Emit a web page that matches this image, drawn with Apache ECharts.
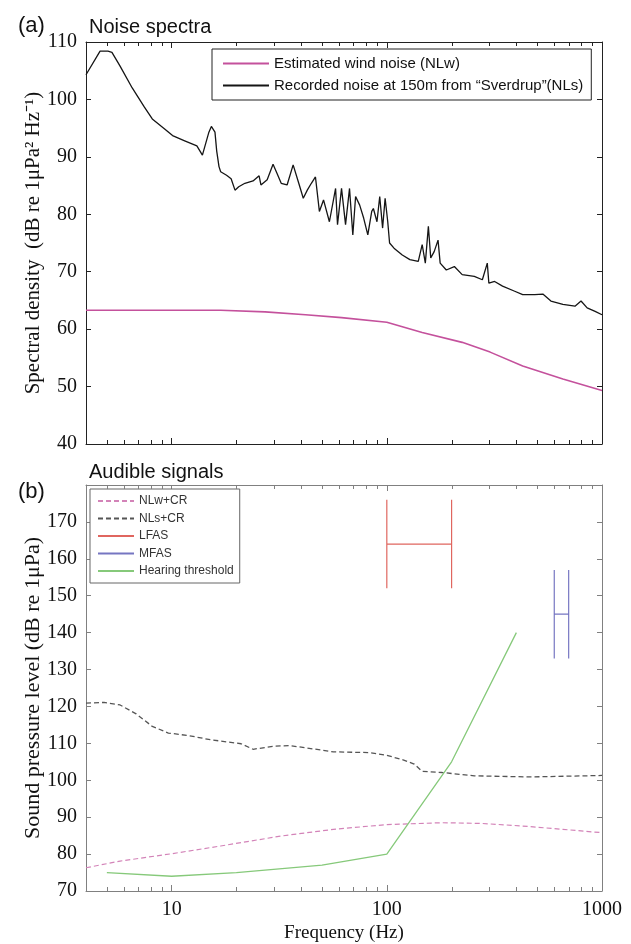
<!DOCTYPE html>
<html>
<head>
<meta charset="utf-8">
<script src="https://cdn.jsdelivr.net/npm/echarts@6/dist/echarts.min.js"></script>
<style>
  html, body { margin: 0; background: #fff; }
  #chart { width: 631px; height: 944px; }
</style>
</head>
<body>
<div id="chart"></div>
<script>
// (a) recorded noise near "Sverdrup" (NLs)
const nlsFreq = [4, 4.65, 5.06, 5.28, 5.76, 6.56, 7.46, 8.13, 9.25, 10.1, 11.5, 13.1, 13.9, 14.9, 15.3, 15.9,
  16.2, 16.6, 16.9, 18.0, 18.9, 19.7, 20.5, 21.9, 23.9, 25.5, 26.0, 27.8, 29.6, 30.9, 32.3, 34.4, 36.7,
  39.2, 40.9, 42.7, 44.6, 46.6, 48.6, 50.8, 54.1, 57.8, 59.0, 61.6, 64.3, 67.1, 69.5, 71.6, 74.8, 78.1,
  81.6, 85.1, 86.6, 90.0, 92.7, 95.6, 98.2, 101, 103, 108, 118, 128, 140, 146, 151, 156, 160, 166, 173,
  177, 189, 206, 224, 255, 278, 293, 298, 317, 345, 393, 428, 487, 531, 579, 658, 749, 799, 853, 929, 1000];
const nlsLevel = [104.3, 108.4, 108.4, 108.2, 105.8, 102.0, 98.7, 96.6, 94.9, 93.7, 92.8, 91.9, 90.3, 94.3, 95.3, 94.3,
  91.0, 88.3, 87.4, 86.8, 86.2, 84.2, 84.8, 85.4, 85.8, 86.7, 85.1, 86.0, 88.7, 87.1, 85.4, 85.1, 88.6,
  85.1, 82.8, 84.2, 85.4, 86.5, 80.5, 82.5, 78.7, 84.5, 78.2, 84.5, 78.2, 84.5, 76.4, 83.1, 81.6, 79.3,
  76.4, 80.5, 81.0, 78.7, 83.1, 77.6, 82.8, 78.7, 75.0, 74.1, 72.9, 72.1, 71.8, 74.7, 71.5, 77.9, 72.4, 73.5, 75.5,
  71.5, 70.3, 70.9, 69.5, 69.2, 68.6, 71.5, 68.0, 68.3, 67.5, 66.6, 66.0, 66.0, 66.1, 64.9, 64.3, 64.0, 64.9, 63.7, 63.1, 62.5];

// (a) estimated wind noise (NLw)
const nlwFreq = [4, 16.9, 27.2, 41.9, 61.6, 100, 146, 224, 302, 428, 658, 1000];
const nlwLevel = [63.3, 63.3, 63.0, 62.5, 62.0, 61.2, 59.4, 57.7, 56.0, 53.6, 51.3, 49.3];

// (b) audible signals
const nlwCrFreq = [4, 5.76, 10, 16.9, 32.3, 56.5, 100, 181, 278, 428, 658, 1000];
const nlwCrLevel = [76.3, 78.1, 80.1, 82.2, 84.9, 86.7, 88.0, 88.5, 88.3, 87.6, 86.7, 85.8];

const nlsCrFreq = [4, 4.85, 5.76, 6.84, 8.13, 9.66, 12.0, 15.1, 21.0, 23.9, 29.6, 35.2, 41.9, 56.5, 83.3,
  99.3, 118, 134, 146, 181, 255, 467, 1000];
const nlsCrLevel = [120.9, 121.1, 120.4, 118.0, 114.6, 112.8, 112.1, 111.0, 109.9, 108.4, 109.2, 109.4, 108.8, 107.7, 107.5,
  106.8, 105.6, 104.4, 102.4, 102.1, 101.2, 100.9, 101.3];

const thresholdFreq = [5, 10, 20, 50, 100, 200, 400];
const thresholdLevel = [75, 74, 75, 77, 80, 105, 140];

const lfasFreq = [100, 200];
const lfasLevel = 164;
const lfasRange = [152, 176];

const mfasFreq = [600, 700];
const mfasLevel = 145;
const mfasRange = [133, 157];

// axis ticks
const freqLabels = [10, 100, 1000];
const minorFreqs = [5, 6, 7, 8, 9, 20, 30, 40, 50, 60, 70, 80, 90, 200, 300, 400, 500, 600, 700, 800, 900];

const serif = 'Liberation Serif';
const sans = 'Liberation Sans';
const darkAxis = '#222';
const grayAxis = '#808080';

const zip = (xs, ys) => xs.map((x, i) => [x, ys[i]]);

// H shaped marker: two vertical bars and a horizontal bar, broken with '-'
const hShape = (freqs, level, range) => [
  [freqs[0], range[0]], [freqs[0], range[1]], [freqs[0], '-'],
  [freqs[0], level], [freqs[1], level], [freqs[1], '-'],
  [freqs[1], range[0]], [freqs[1], range[1]]
];

const freqAxis = (grid, pos, color, showLabels) => ({
  type: 'log', logBase: 10, gridIndex: grid, position: pos, min: 4, max: 1000,
  axisLine: { show: true, onZero: false, lineStyle: { color: color, width: 1 } },
  axisTick: { show: true, inside: true, length: 6, lineStyle: { color: color } },
  axisLabel: {
    show: showLabels, margin: 9, fontFamily: serif, fontSize: 20, color: '#111',
    showMaxLabel: true,
    formatter: v => freqLabels.includes(Math.round(v)) ? String(Math.round(v)) : ''
  },
  splitLine: { show: false }
});

const levelAxis = (grid, pos, min, max, color, showLabels, name, nameSize, nameGap) => ({
  type: 'value', gridIndex: grid, position: pos, min: min, max: max, interval: 10,
  name: name || '', nameLocation: 'middle', nameGap: nameGap || 34, nameMoveOverlap: false,
  nameTextStyle: { fontFamily: serif, fontSize: nameSize || 19, color: '#111' },
  axisLine: { show: true, onZero: false, lineStyle: { color: color, width: 1 } },
  axisTick: { show: true, inside: true, length: 5, lineStyle: { color: color } },
  axisLabel: {
    show: showLabels, margin: 9, fontFamily: serif, fontSize: 20, color: '#111',
    formatter: v => (v === max && max === 180) ? '' : String(v)
  },
  splitLine: { show: false }
});

const minorTicks = (xi, yi, yMin, yMax, color) => ({
  type: 'custom', xAxisIndex: xi, yAxisIndex: yi, silent: true, clip: false, z: 5,
  data: minorFreqs.map(f => [f, yMin]),
  encode: { x: 0, y: 1 },
  renderItem: (params, api) => {
    const b = api.coord([api.value(0), yMin]);
    const t = api.coord([api.value(0), yMax]);
    const x = Math.round(b[0]) + 0.5;
    return {
      type: 'group',
      children: [
        { type: 'line', shape: { x1: x, y1: b[1], x2: x, y2: b[1] - 4 }, style: { stroke: color, lineWidth: 1 } },
        { type: 'line', shape: { x1: x, y1: t[1], x2: x, y2: t[1] + 4 }, style: { stroke: color, lineWidth: 1 } }
      ]
    };
  }
});

const line = (name, xi, yi, data, color, width, type) => ({
  name: name, type: 'line', xAxisIndex: xi, yAxisIndex: yi, data: data,
  symbol: 'none', connectNulls: false,
  lineStyle: { color: color, width: width, type: type || 'solid' },
  itemStyle: { color: color }
});

const nameNLw = 'Estimated wind noise (NLw)';
const nameNLs = 'Recorded noise at 150m from \u201cSverdrup\u201d(NLs)';

const chart = echarts.init(document.getElementById('chart'));
chart.setOption({
  animation: false,
  backgroundColor: '#fff',
  title: [
    { text: '(a)', left: 13, top: 10, textStyle: { fontFamily: sans, fontSize: 22, fontWeight: 'normal', color: '#111' } },
    { text: 'Noise spectra', left: 84, top: 12, textStyle: { fontFamily: sans, fontSize: 20, fontWeight: 'normal', color: '#111' } },
    { text: 'Audible signals', left: 84, top: 457, textStyle: { fontFamily: sans, fontSize: 20, fontWeight: 'normal', color: '#111' } },
    { text: '(b)', left: 13, top: 476, textStyle: { fontFamily: sans, fontSize: 22, fontWeight: 'normal', color: '#111' } }
  ],
  legend: [
    {
      data: [nameNLw, nameNLs], left: 212, top: 49, orient: 'vertical',
      itemWidth: 46, itemHeight: 14, itemGap: 7, padding: [7, 8, 7, 10],
      borderColor: '#222', borderWidth: 1, backgroundColor: '#fff', selectedMode: false,
      itemStyle: { opacity: 0 },
      textStyle: { fontFamily: sans, fontSize: 15, color: '#111' }
    },
    {
      data: ['NLw+CR', 'NLs+CR', 'LFAS', 'MFAS', 'Hearing threshold'], left: 90, top: 489, orient: 'vertical',
      itemWidth: 36, itemHeight: 10, itemGap: 5.5, padding: [6, 6, 6, 7],
      borderColor: '#666', borderWidth: 1, backgroundColor: '#fff', selectedMode: false,
      itemStyle: { opacity: 0 },
      textStyle: { fontFamily: sans, fontSize: 12, color: '#333' }
    }
  ],
  grid: [
    { left: 86, top: 42, width: 516, height: 402 },
    { left: 86, top: 485, width: 516, height: 406 }
  ],
  xAxis: [
    freqAxis(0, 'bottom', darkAxis, false),
    freqAxis(0, 'top', darkAxis, false),
    Object.assign(freqAxis(1, 'bottom', grayAxis, true), {
      name: 'Frequency (Hz)', nameLocation: 'middle', nameGap: 33, nameMoveOverlap: false,
      nameTextStyle: { fontFamily: serif, fontSize: 19, color: '#111' }
    }),
    freqAxis(1, 'top', grayAxis, false)
  ],
  yAxis: [
    levelAxis(0, 'left', 40, 110, darkAxis, true, 'Spectral density  (dB re 1\u03bcPa\u00b2 Hz\u207b\u00b9)', 21, 42),
    levelAxis(0, 'right', 40, 110, darkAxis, false),
    levelAxis(1, 'left', 70, 180, grayAxis, true, 'Sound pressure level (dB re 1\u03bcPa)', 22, 42),
    levelAxis(1, 'right', 70, 180, grayAxis, false)
  ],
  series: [
    line(nameNLw, 0, 0, zip(nlwFreq, nlwLevel), '#c4519c', 1.6),
    line(nameNLs, 0, 0, zip(nlsFreq, nlsLevel), '#151515', 1.3),
    minorTicks(0, 0, 40, 110, darkAxis),
    line('NLw+CR', 2, 2, zip(nlwCrFreq, nlwCrLevel), '#d383b8', 1.2, [5, 3]),
    line('NLs+CR', 2, 2, zip(nlsCrFreq, nlsCrLevel), '#555', 1.3, [5, 3]),
    line('LFAS', 2, 2, hShape(lfasFreq, lfasLevel, lfasRange), '#e0665f', 1.2),
    line('MFAS', 2, 2, hShape(mfasFreq, mfasLevel, mfasRange), '#7676c2', 1.2),
    line('Hearing threshold', 2, 2, zip(thresholdFreq, thresholdLevel), '#86c97a', 1.3),
    minorTicks(2, 2, 70, 180, grayAxis)
  ]
});
</script>
</body>
</html>
